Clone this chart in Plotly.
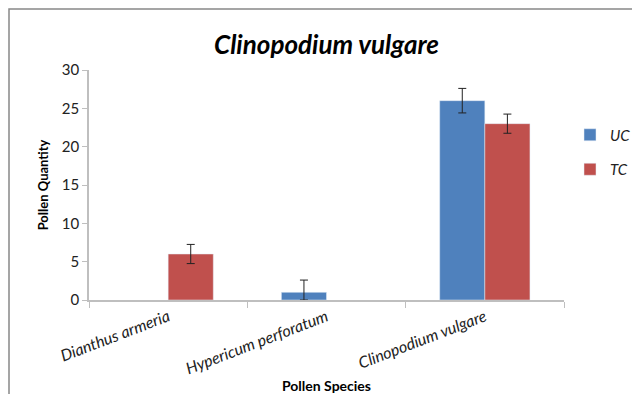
import plotly.graph_objects as go

categories = ["Dianthus armeria", "Hypericum perforatum", "Clinopodium vulgare"]
uc_values = [0, 1, 26]
uc_err_plus = [0, 1.6, 1.6]
uc_err_minus = [0, 1.0, 1.6]
tc_values = [6, 0, 23]
tc_err = [1.25, 0, 1.25]
y_ticks = [0, 5, 10, 15, 20, 25, 30]

FONT = "Lato, 'Open Sans', sans-serif"
BLUE = "#4F81BD"
RED = "#C0504D"


def nz(vals):
    # zero-height bars are not drawn (and get no error bar), as in the reference
    return [v if v else None for v in vals]


fig = go.Figure()
fig.add_trace(go.Bar(
    name="UC", x=categories, y=nz(uc_values), marker_color=BLUE, legendgroup="uc",
    error_y=dict(type="data", symmetric=False, array=uc_err_plus, arrayminus=uc_err_minus,
                 color="#222222", thickness=1, width=4),
))
fig.add_trace(go.Bar(
    name="TC", x=categories, y=nz(tc_values), marker_color=RED, legendgroup="tc",
    error_y=dict(type="data", array=tc_err, color="#222222", thickness=1, width=4),
))

W, H = 624, 386
fig.update_layout(
    width=W, height=H,
    margin=dict(l=81, r=68, t=62, b=94),
    paper_bgcolor="white", plot_bgcolor="white",
    barmode="group", bargap=0.43, bargroupgap=0,
    font=dict(family=FONT, size=13, color="#222222"),
    title=dict(text="<b><i>Clinopodium vulgare</i></b>", x=0.5, xref="paper", xanchor="center",
               yref="container", y=1 - 37 / H, yanchor="middle",
               font=dict(family=FONT, size=26, color="black")),
    legend=dict(xref="container", yref="container", x=562 / W, y=1 - 144 / H,
                xanchor="left", yanchor="middle",
                font=dict(family=FONT, size=15, style="italic", color="#222222"),
                itemwidth=30, tracegroupgap=12),
    showlegend=True,
)
fig.update_xaxes(
    showline=True, linecolor="#BFBFBF", linewidth=1.5, automargin=False,
    ticks="outside", tickson="boundaries", ticklen=6, tickcolor="#BFBFBF",
    tickangle=-21, tickfont=dict(family=FONT, size=16, style="italic", color="#222222"),
    title=dict(text="<b>Pollen Species</b>", font=dict(family=FONT, size=14, color="black"), standoff=8),
    showgrid=False,
)
fig.update_yaxes(
    range=[0, 30], tickvals=y_ticks, automargin=False,
    showline=True, linecolor="#BFBFBF", linewidth=1.5,
    ticks="outside", ticklen=5, tickcolor="#BFBFBF",
    tickfont=dict(family=FONT, size=15, color="#222222"),
    title=dict(text="<b>Pollen Quantity</b>", font=dict(family=FONT, size=13, color="black"), standoff=10),
    showgrid=False, zeroline=False,
)
# outer chart frame
fig.add_shape(type="rect", xref="paper", yref="paper",
              x0=-80 / 475, x1=1.3, y0=-0.6, y1=291 / 230,
              line=dict(color="#888888", width=1.5), fillcolor="rgba(0,0,0,0)", layer="below")

fig.write_html("out.html")
